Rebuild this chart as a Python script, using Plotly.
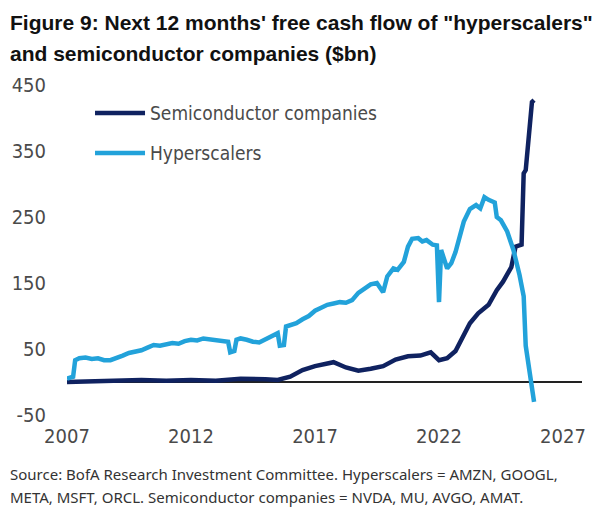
import plotly.graph_objects as go

# Next 12 months' free cash flow ($bn)
hyper_dates = [
    "2007-01", "2007-03", "2007-04", "2007-05", "2007-07", "2007-10",
    "2008-01", "2008-04", "2008-07", "2008-10",
    "2009-01", "2009-04", "2009-07", "2009-10",
    "2010-01", "2010-04", "2010-07", "2010-10",
    "2011-01", "2011-04", "2011-07", "2011-10",
    "2012-01", "2012-04", "2012-07", "2012-10",
    "2013-01", "2013-04", "2013-07", "2013-08", "2013-10", "2013-11",
    "2014-01", "2014-04", "2014-07", "2014-10",
    "2015-01", "2015-04", "2015-07", "2015-08", "2015-10", "2015-11",
    "2016-01", "2016-04", "2016-07", "2016-10",
    "2017-01", "2017-04", "2017-07", "2017-10",
    "2018-01", "2018-04", "2018-07", "2018-10",
    "2019-01", "2019-04", "2019-07", "2019-10", "2019-12",
    "2020-03", "2020-05", "2020-08", "2020-10", "2020-12",
    "2021-03", "2021-05", "2021-07", "2021-10", "2021-12",
    "2022-01", "2022-02", "2022-05", "2022-07", "2022-09", "2022-11",
    "2023-01", "2023-04", "2023-07", "2023-09", "2023-11",
    "2024-01", "2024-04", "2024-05", "2024-07", "2024-10",
    "2025-01", "2025-04", "2025-06", "2025-07", "2025-08", "2025-10", "2025-11",
]
hyper_values = [
    5, 6, 8, 33, 36, 37,
    35, 36, 33, 33,
    36, 40, 44, 46,
    48, 52, 56, 55,
    57, 59, 58, 62,
    64, 63, 66, 65,
    63, 62, 61, 45, 47, 64,
    66, 64, 61, 60,
    65, 68, 74, 55, 56, 84,
    86, 89, 95, 100,
    108, 113, 117, 119,
    121, 120, 124, 135,
    142, 148, 150, 136, 160,
    172, 170, 182, 205, 217,
    218, 213, 215, 208, 207,
    121, 200, 172, 180, 197, 220,
    243, 262, 268, 263, 280,
    276, 272, 250, 245, 228,
    200, 162, 130, 55, 35, -2, -30,
]

semi_dates = [
    "2007-01", "2008-01", "2009-01", "2010-01", "2011-01", "2012-01",
    "2013-01", "2014-01", "2015-01", "2015-07",
    "2016-01", "2016-07", "2017-01", "2017-07", "2017-10",
    "2018-04", "2018-10", "2019-04", "2019-10",
    "2020-04", "2020-10", "2021-04", "2021-09",
    "2022-01", "2022-05", "2022-09", "2022-12",
    "2023-04", "2023-08", "2024-01", "2024-05", "2024-08", "2024-12",
    "2025-02", "2025-05", "2025-06", "2025-07", "2025-10", "2025-11",
]
semi_values = [
    0, 1, 2, 3, 2, 3,
    2, 5, 4, 3,
    8, 18, 24, 28, 30,
    22, 17, 20, 24,
    34, 39, 40, 45,
    33, 36, 47, 64,
    89, 104, 117, 139, 152, 174,
    205, 208, 316, 321, 424, 427,
]

x_tick_vals = ["2007-01-01", "2012-01-01", "2017-01-01", "2022-01-01", "2027-01-01"]
x_tick_text = ["2007", "2012", "2017", "2022", "2027"]
y_tick_vals = [-50, 50, 150, 250, 350, 450]
y_tick_text = ["-50", "50", "150", "250", "350", "450"]

semi_color = "#0f2260"
hyper_color = "#22a2da"
axis_font = dict(family="DejaVu Sans Condensed, DejaVu Sans", size=20, color="#4a4a4a")
legend_font = dict(family="DejaVu Sans Condensed, DejaVu Sans", size=19, color="#4a4a4a")

fig = go.Figure()
fig.add_trace(go.Scatter(x=semi_dates, y=semi_values, mode="lines",
                         name="Semiconductor companies",
                         line=dict(color=semi_color, width=4.5)))
fig.add_trace(go.Scatter(x=hyper_dates, y=hyper_values, mode="lines",
                         name="Hyperscalers",
                         line=dict(color=hyper_color, width=4.5)))

# page body has an 8px margin, so the figure is 8px smaller than the window
fig.update_layout(
    width=601, height=505,
    margin=dict(l=59, r=27, t=77, b=98),
    paper_bgcolor="white", plot_bgcolor="white",
    showlegend=False,
)
fig.update_xaxes(range=["2007-01-01", "2027-10-08"], tickvals=x_tick_vals, ticktext=x_tick_text,
                 showgrid=False, zeroline=False, showline=False, ticks="", automargin=False,
                 tickfont=axis_font, ticklabelstandoff=7)
fig.update_yaxes(range=[-50, 450], tickvals=y_tick_vals, ticktext=y_tick_text,
                 showgrid=False, zeroline=True, zerolinecolor="#222222", zerolinewidth=2,
                 showline=False, ticks="", automargin=False,
                 tickfont=axis_font, ticklabelstandoff=20)

# legend drawn by hand, as in the original
legend_items = [("Semiconductor companies", semi_color, 0.9152),
                ("Hyperscalers", hyper_color, 0.7939)]
for label, color, ypos in legend_items:
    fig.add_shape(type="line", xref="paper", yref="paper", x0=0.0544, x1=0.1515, y0=ypos, y1=ypos,
                  line=dict(color=color, width=4.5))
    fig.add_annotation(text=label, xref="paper", yref="paper", x=0.1573, y=ypos,
                       xanchor="left", yanchor="middle", showarrow=False, font=legend_font)

# title, two lines
left = -59 / 515
title_font = dict(family="Liberation Sans, Arial", size=21, color="#111111")
fig.add_annotation(text="<b>Figure 9: Next 12 months' free cash flow of \"hyperscalers\"</b>",
                   xref="paper", yref="paper", x=left, y=(415 - 22) / 330,
                   xanchor="left", yanchor="middle", showarrow=False, font=title_font)
fig.add_annotation(text="<b>and semiconductor companies ($bn)</b>",
                   xref="paper", yref="paper", x=left, y=(415 - 53) / 330,
                   xanchor="left", yanchor="middle", showarrow=False, font=title_font)

# source note
source_font = dict(family="Noto Sans", size=15, color="#333333")
fig.add_annotation(text="Source: BofA Research Investment Committee. Hyperscalers = AMZN, GOOGL,",
                   xref="paper", yref="paper", x=left, y=(415 - 474) / 330,
                   xanchor="left", yanchor="middle", showarrow=False, font=source_font)
fig.add_annotation(text="META, MSFT, ORCL. Semiconductor companies = NVDA, MU, AVGO, AMAT.",
                   xref="paper", yref="paper", x=left, y=(415 - 497) / 330,
                   xanchor="left", yanchor="middle", showarrow=False, font=source_font)

fig.write_html("out.html")
